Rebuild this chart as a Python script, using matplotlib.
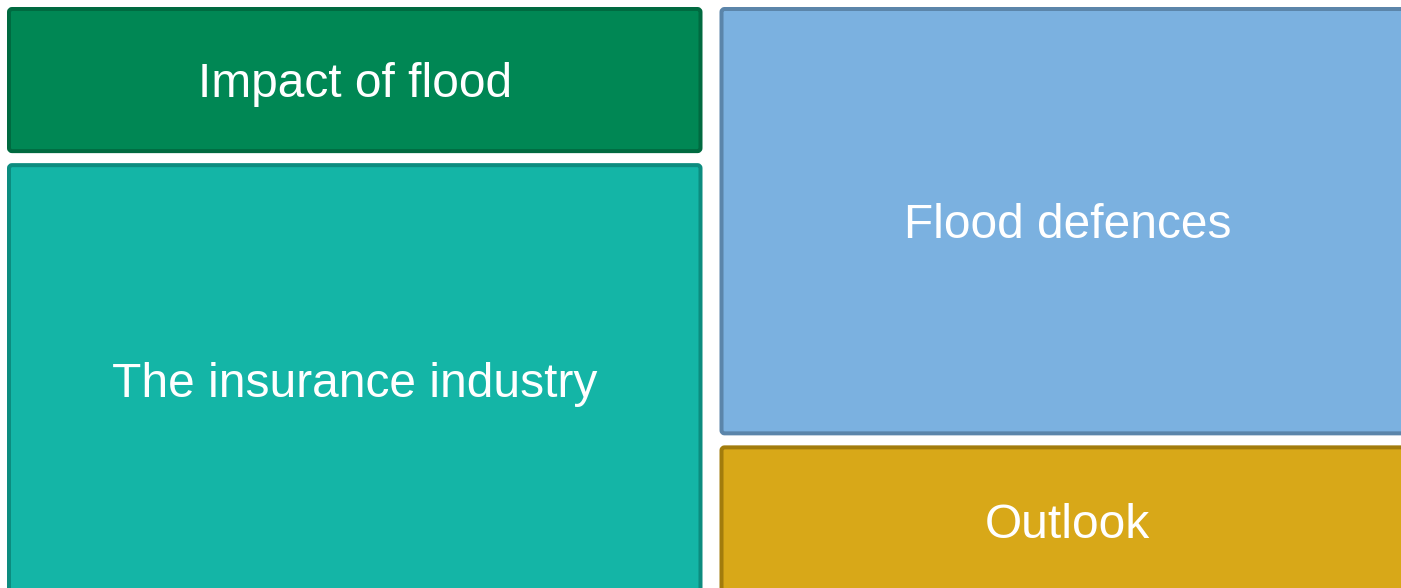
import matplotlib
matplotlib.use("Agg")
import matplotlib.pyplot as plt
from matplotlib.patches import FancyBboxPatch

# Data
labels = ["Impact of flood", "The insurance industry", "Flood defences", "Outlook"]
values = [26, 74, 73, 27]
columns = [0, 0, 1, 1]
fills = ["#008754", "#14b5a6", "#7bb1e0", "#d8a818"]
edges = ["#006a40", "#0c8c7f", "#5b85aa", "#a27c0c"]

W_PX, H_PX = 1401, 588
fig = plt.figure(figsize=(W_PX / 100, H_PX / 100), dpi=100)
ax = fig.add_axes([0, 0, 1, 1])
ax.set_xlim(0, W_PX)
ax.set_ylim(H_PX, 0)
ax.axis("off")

# treemap region (extends past the visible canvas, as in the reference)
X0, Y0, W, H = -1.5, 2.0, 1425.0, 600.5
gx, gy = 17, 10
lw_px = 4
lw_pt = lw_px * 72 / 100
fs = 34.5
cap_px = 0.70 * fs * 100 / 72

ncol = max(columns) + 1
col_sums = [sum(v for v, c in zip(values, columns) if c == k) for k in range(ncol)]
total = sum(col_sums)

x = X0
for k in range(ncol):
    cw = W * col_sums[k] / total
    y = Y0
    for lab, v, c, fc, ec in zip(labels, values, columns, fills, edges):
        if c != k:
            continue
        ch = H * v / col_sums[k]
        ox0, ox1 = x + gx / 2, x + cw - gx / 2
        oy0, oy1 = y + gy / 2, y + ch - gy / 2
        px0, px1 = ox0 + lw_px / 2, ox1 - lw_px / 2
        py0, py1 = oy0 + lw_px / 2, oy1 - lw_px / 2
        patch = FancyBboxPatch((px0 + 2, py0 + 2), (px1 - px0) - 4, (py1 - py0) - 4,
                               boxstyle="round,pad=2,rounding_size=3",
                               facecolor=fc, edgecolor=ec, linewidth=lw_pt,
                               joinstyle="round")
        ax.add_patch(patch)
        ax.text((ox0 + ox1) / 2, (oy0 + oy1) / 2 + cap_px / 2, lab,
                ha="center", va="baseline",
                color="white", fontsize=fs, family=["Liberation Sans", "DejaVu Sans"])
        y += ch
    x += cw

fig.savefig("out.png", dpi=100, facecolor="white")
